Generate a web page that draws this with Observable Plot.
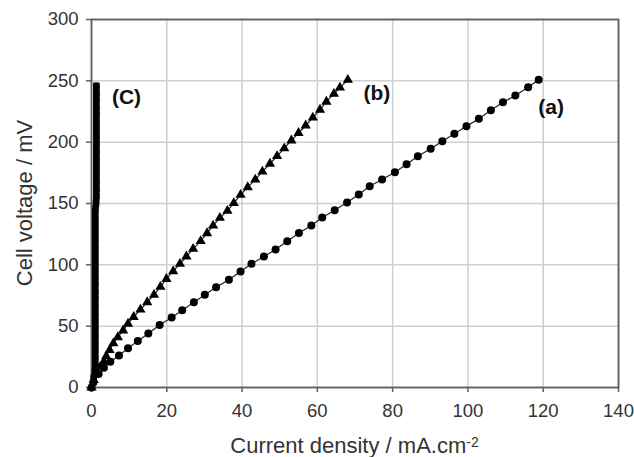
<!DOCTYPE html>
<html><head><meta charset="utf-8">
<script src="https://cdn.jsdelivr.net/npm/d3@7"></script>
<script src="https://cdn.jsdelivr.net/npm/@observablehq/plot@0.6"></script>
<style>
body{margin:0;background:#fff;}
#chart svg{font-family:"Liberation Sans",Arial,sans-serif;}
</style>
</head><body><div id="chart"></div><script>
// Series (a): circles
const aX = [0, 0.5, 1.9, 3.3, 5.0, 7.3, 9.7, 12.3, 15.1, 18.1, 21.3, 24.1, 27.2, 30.1, 33.1, 36.5, 39.6, 42.5, 45.8, 48.9, 52.0, 55.1, 58.4, 61.3, 64.6, 67.9, 71.0, 73.9, 77.2, 80.6, 83.7, 86.7, 90.1, 93.2, 96.4, 99.6, 102.9, 106.1, 109.3, 112.6, 116.0, 118.8];
const aY = [0, 4, 11, 16, 21, 26, 32, 38, 44, 51, 57, 63, 69.5, 75.6, 81.8, 87.8, 94.6, 100.8, 106.8, 112.5, 119.3, 126, 132, 138.5, 144.5, 150.8, 157.3, 164, 169.5, 175.5, 182, 188.5, 194.6, 200.8, 206.8, 213, 219, 226, 232.5, 238, 244.8, 250.8];
// Series (b): triangles
const bX = [0, 0.6, 1.5, 2.4, 3.3, 3.9, 4.8, 5.8, 7.0, 8.4, 9.7, 11.2, 13.0, 14.8, 16.6, 18.3, 19.9, 21.7, 23.5, 25.2, 27.0, 29.0, 30.7, 32.3, 34.1, 36.1, 37.8, 39.6, 41.5, 43.5, 45.4, 47.4, 49.3, 51.2, 53.1, 55.0, 56.9, 58.8, 60.7, 62.4, 64.4, 66.0, 68.1];
const bY = [0, 6, 12, 17, 21, 25.5, 30.5, 36, 41, 46.5, 52, 57.5, 63.5, 69.5, 75.5, 82, 88.5, 94.8, 100.8, 106.8, 113, 119.3, 125.8, 132, 138.3, 144, 150.3, 157, 163.3, 169.5, 176, 182.4, 188.6, 195, 201.4, 207.5, 213.6, 220, 226.4, 233, 239.4, 244.5, 250.8];
// Series (c): dense vertical
const cX = [0.6, 0.9, 1.0, 1.0, 1.0, 1.0, 1.0, 1.0, 1.0, 1.0, 1.0, 1.0, 1.0, 1.0, 1.0, 1.0, 1.0, 1.0, 1.0, 1.0, 1.0, 1.0, 1.0, 1.0, 1.2, 1.3, 1.3, 1.3, 1.3, 1.3, 1.3, 1.3, 1.3, 1.3, 1.3, 1.3, 1.3, 1.3, 1.3, 1.3, 1.3];
const cY = [8, 12, 18, 24, 30, 36, 42, 48, 54, 60, 66, 72, 78, 84, 90, 96, 102, 108, 114, 120, 126, 132, 138, 144, 150, 156, 162, 168, 174, 180, 186, 192, 198, 204, 210, 216, 222, 228, 234, 240, 246];
// Tick values
const xTicks = [0, 20, 40, 60, 80, 100, 120, 140];
const yTicks = [0, 50, 100, 150, 200, 250, 300];
// Curve labels
const labText = ["(a)", "(b)", "(C)"];
const labX = [122.1, 75.8, 9.3];
const labY = [228.3, 239.7, 237];

const A = aX.map((x, i) => ({x, y: aY[i]}));
const B = bX.map((x, i) => ({x, y: bY[i]}));
const C = cX.map((x, i) => ({x, y: cY[i]}));
const L = labText.map((t, i) => ({t, x: labX[i], y: labY[i]}));

const W = 634, H = 457, mL = 91, mR = 16, mT = 19, mB = 70;
const plot = Plot.plot({
  width: W, height: H,
  marginLeft: mL, marginRight: mR, marginTop: mT, marginBottom: mB,
  style: {fontFamily: '"Liberation Sans", Arial, sans-serif', fontSize: "18.5px", color: "#333", background: "#fff", overflow: "visible"},
  x: {domain: [0, 140]},
  y: {domain: [0, 300]},
  marks: [
    Plot.gridX(xTicks, {stroke: "#cfcfcf", strokeOpacity: 1, strokeWidth: 1.5}),
    Plot.gridY(yTicks, {stroke: "#cfcfcf", strokeOpacity: 1, strokeWidth: 1.5}),
    Plot.frame({stroke: "#5e5e5e", strokeWidth: 1.8}),
    Plot.axisX(xTicks, {tickSize: 5, tickPadding: 11, stroke: "#5e5e5e", strokeWidth: 1.5, label: null, fontSize: 18.5}),
    Plot.axisY(yTicks, {tickSize: 5, tickPadding: 8, stroke: "#5e5e5e", strokeWidth: 1.5, label: null, fontSize: 18.5}),
    Plot.line(A, {x: "x", y: "y", stroke: "#222", strokeWidth: 1.2}),
    Plot.dot(A, {x: "x", y: "y", r: 4, fill: "#000", stroke: "none"}),
    Plot.line(B, {x: "x", y: "y", stroke: "#222", strokeWidth: 1.2}),
    Plot.dot(B, {x: "x", y: "y", r: 3.8, symbol: "triangle", fill: "#000", stroke: "none"}),
    Plot.line(C, {x: "x", y: "y", stroke: "#000", strokeWidth: 6.5}),
    Plot.dot(C, {x: "x", y: "y", r: 3.6, symbol: "square", fill: "#000", stroke: "none"}),
    Plot.text(L, {x: "x", y: "y", text: "t", fontSize: 21, fontWeight: "bold", fill: "#111"})
  ]
});
document.getElementById("chart").appendChild(plot);

// Axis titles
const svg = d3.select(plot);
const xt = svg.append("text")
  .attr("x", (mL + (W - mR)) / 2)
  .attr("y", 453)
  .attr("text-anchor", "middle")
  .attr("fill", "#333")
  .style("font-size", "22px");
xt.append("tspan").text("Current density / mA.cm");
xt.append("tspan").attr("dy", "-0.45em").style("font-size", "14px").text("-2");

svg.append("text")
  .attr("transform", `translate(24,${(mT + (H - mB)) / 2}) rotate(-90)`)
  .attr("text-anchor", "middle")
  .attr("dominant-baseline", "central")
  .attr("fill", "#333")
  .style("font-size", "22px")
  .text("Cell voltage / mV");
</script></body></html>
